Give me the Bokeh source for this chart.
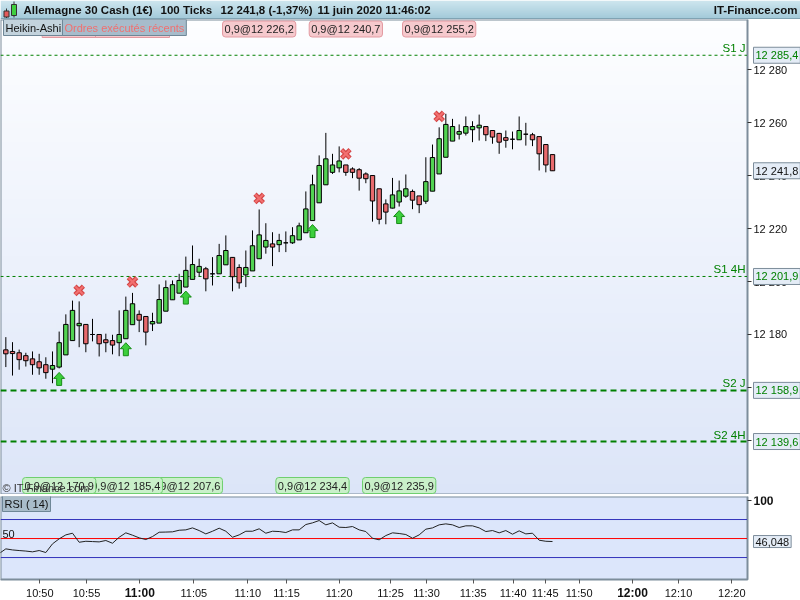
import numpy as np
from bokeh.plotting import figure
from bokeh.models import Range1d, Label, FixedTicker, ColumnDataSource
from bokeh.layouts import column
from bokeh.embed import file_html
from bokeh.resources import INLINE
from bokeh.core.properties import value

FONT = "Liberation Sans"

# ---------------- data (Heikin-Ashi, 100 ticks bars) ----------------
ha_open = [12174.2, 12173.6, 12173.1, 12172.0, 12170.8, 12169.7, 12168.6, 12166.9, 12167.7, 12172.3,
           12177.7, 12183.3, 12183.8, 12180.0, 12180.0, 12178.0, 12177.7, 12176.9, 12178.4, 12183.7,
           12187.6, 12186.8, 12184.0, 12184.3, 12188.8, 12193.1, 12195.6, 12197.9, 12200.8, 12203.5,
           12204.8, 12202.9, 12202.9, 12206.3, 12209.1, 12205.3, 12202.5, 12204.0, 12208.6, 12213.0,
           12214.2, 12213.9, 12214.6, 12214.6, 12215.7, 12218.4, 12223.0, 12229.7, 12236.5, 12241.2,
           12242.9, 12244.0, 12242.5, 12242.2, 12240.6, 12240.0, 12235.0, 12229.3, 12227.7, 12230.0,
           12232.2, 12234.0, 12232.3, 12230.3, 12234.1, 12240.6, 12246.9, 12253.0, 12255.6, 12256.0,
           12257.3, 12258.0, 12258.5, 12257.0, 12255.9, 12254.3, 12253.7, 12253.5, 12255.6, 12255.4,
           12254.7, 12251.7, 12247.9]
ha_high = [12179.0, 12177.1, 12174.3, 12173.1, 12173.6, 12172.7, 12171.4, 12173.6, 12181.1, 12187.6,
           12192.8, 12192.5, 12183.8, 12185.9, 12180.0, 12180.3, 12179.9, 12189.1, 12194.3, 12195.7,
           12189.1, 12186.8, 12188.2, 12198.9, 12200.4, 12200.4, 12202.9, 12209.4, 12213.6, 12208.6,
           12205.5, 12209.2, 12214.2, 12217.4, 12209.1, 12206.5, 12211.7, 12219.3, 12227.2, 12222.0,
           12218.6, 12218.0, 12218.9, 12220.5, 12222.2, 12234.0, 12240.3, 12247.6, 12256.1, 12248.2,
           12251.0, 12244.0, 12243.1, 12242.8, 12241.2, 12240.0, 12235.0, 12231.0, 12239.1, 12238.1,
           12240.4, 12234.7, 12232.3, 12246.9, 12251.7, 12258.2, 12263.3, 12261.4, 12259.3, 12262.3,
           12260.5, 12263.0, 12258.5, 12257.0, 12256.1, 12257.0, 12256.6, 12262.3, 12259.9, 12256.1,
           12254.7, 12251.7, 12247.9]
ha_low = [12167.7, 12164.5, 12166.7, 12167.9, 12164.8, 12164.8, 12163.3, 12161.6, 12167.2, 12172.3,
          12177.7, 12175.2, 12173.3, 12177.4, 12171.7, 12173.3, 12172.5, 12171.8, 12178.4, 12183.7,
          12180.9, 12175.9, 12181.3, 12184.3, 12188.8, 12193.1, 12195.6, 12197.9, 12200.8, 12201.9,
          12196.3, 12198.5, 12202.9, 12206.3, 12196.3, 12197.3, 12197.9, 12204.0, 12208.6, 12210.5,
          12205.8, 12211.1, 12211.1, 12214.2, 12215.7, 12218.4, 12223.0, 12229.7, 12236.5, 12240.6,
          12241.2, 12239.9, 12239.0, 12234.3, 12237.1, 12222.6, 12221.6, 12221.6, 12227.6, 12228.3,
          12231.6, 12227.3, 12225.8, 12229.3, 12234.1, 12240.6, 12246.9, 12253.0, 12253.6, 12255.1,
          12252.6, 12253.2, 12253.0, 12252.0, 12248.2, 12250.5, 12249.9, 12253.5, 12251.3, 12251.1,
          12241.9, 12241.2, 12241.8]
ha_close = [12172.7, 12172.8, 12170.5, 12170.1, 12168.6, 12167.4, 12165.6, 12168.3, 12176.9, 12183.8,
            12189.1, 12184.2, 12176.5, 12180.0, 12176.5, 12176.9, 12176.0, 12180.0, 12189.1, 12191.6,
            12185.4, 12180.9, 12184.9, 12193.2, 12197.7, 12198.8, 12200.4, 12204.2, 12206.4, 12205.7,
            12201.0, 12202.9, 12209.8, 12211.7, 12201.8, 12199.5, 12205.3, 12213.5, 12217.6, 12215.5,
            12213.0, 12215.5, 12214.6, 12217.3, 12221.0, 12227.4, 12236.5, 12243.8, 12246.3, 12244.0,
            12245.5, 12241.2, 12241.2, 12239.0, 12238.8, 12230.4, 12223.5, 12226.2, 12232.7, 12234.2,
            12235.0, 12230.7, 12229.0, 12237.7, 12246.8, 12253.9, 12259.3, 12258.5, 12256.6, 12258.5,
            12258.5, 12259.0, 12255.4, 12254.5, 12252.6, 12253.3, 12253.7, 12257.0, 12255.6, 12253.5,
            12248.2, 12244.0, 12241.8]

sell_bars = [11, 19, 38, 51, 65]
sell_prices = [None, None, 12226.2, 12240.7, 12255.2]   # first two hidden under the legend boxes
buy_bars = [8, 18, 27, 46, 59]
buy_prices = [12170.9, 12185.4, 12207.6, 12234.4, 12235.9]
order_qty = "0,9"

level_names = ["S1 J", "S1 4H", "S2 J", "S2 4H"]
level_values = [12285.4, 12201.9, 12158.9, 12139.6]
level_widths = [1, 1, 2, 2]
last_price = 12241.8

rsi_first_bar = -1
rsi_values = [30.3, 36.4, 35.0, 34.2, 33.5, 32.5, 34.2, 31.6, 43.0, 49.6,
              54.8, 57.0, 45.1, 46.4, 46.0, 45.6, 47.4, 43.8, 51.7, 57.5,
              54.4, 50.9, 48.7, 52.6, 58.3, 58.5, 58.8, 60.9, 61.4, 64.0,
              60.5, 56.1, 59.6, 63.6, 59.6, 51.7, 54.8, 59.6, 59.6, 62.8,
              57.0, 59.6, 59.2, 57.9, 61.4, 61.4, 68.4, 70.6, 73.7, 68.0,
              70.6, 64.9, 64.5, 65.8, 61.4, 59.2, 50.4, 48.3, 53.9, 57.5,
              56.6, 55.3, 50.4, 54.8, 62.3, 64.0, 68.0, 69.3, 68.0, 64.5,
              66.7, 66.7, 64.0, 59.2, 60.5, 57.5, 60.5, 55.7, 60.1, 56.1,
              57.0, 47.8, 46.4, 46.048]
rsi_last = 46.048
rsi_bands = [75, 25]
rsi_mid = 50

price_ticks = [12140, 12160, 12180, 12200, 12220, 12240, 12260, 12280]
price_tick_labels = ["12 140", "12 160", "12 180", "12 200", "12 220", "12 240", "12 260", "12 280"]
time_tick_pos = [5.1, 12.1, 20.1, 28.2, 36.3, 42.1, 50.0, 57.7, 63.1, 70.1, 76.1, 80.9, 86.0, 94.0, 100.9, 108.9]
time_tick_labels = ["10:50", "10:55", "11:00", "11:05", "11:10", "11:15", "11:20", "11:25", "11:30",
                    "11:35", "11:40", "11:45", "11:50", "12:00", "12:10", "12:20"]

# ---------------- layout constants ----------------
PAGE_W = 800
X0, X_AX = -0.8, 111.25            # visible bar span left of the price scale
PANE_W = 747
PX_X = PANE_W / (X_AX - X0)
X_END = X0 + PAGE_W / PX_X
HDR_H = 19
Y0, Y1 = 12119.6, 12298.9
PRICE_H = 475
PX_Y = PRICE_H / (Y1 - Y0)
R0, R1 = -3.9, 105.3
RSI_GAP = 2
RSI_PANE_H = 83
TIME_H = 21
PX_R = RSI_PANE_H / (R1 - R0)
R_END = R0 - TIME_H / PX_R
AXIS_GREY = "#7d8d9b"
GREEN = "#008000"
FS = "11px"


def fmt(v):
    return f"{v:,.1f}".replace(",", " ").replace(".", ",")


def vgrad(top, bottom, n=200):
    t = np.linspace(0.0, 1.0, n)[:, None]  # row 0 = bottom
    img = np.empty((n, 2), dtype=np.uint32)
    view = img.view(dtype=np.uint8).reshape((n, 2, 4))
    for k in range(3):
        view[:, :, k] = np.round(bottom[k] + (top[k] - bottom[k]) * t).astype(np.uint8)
    view[:, :, 3] = 255
    return img


def value_box(y, text, color):
    return Label(x=X_AX, x_offset=6, y=y, text=text, text_align="left", text_baseline="middle",
                 text_font=FONT, text_font_size=FS, text_color=color,
                 background_fill_color="#e4ecf6", border_line_color=AXIS_GREY, padding=2)


def style_axis(a, size=FS, bold=False):
    a.axis_line_color = AXIS_GREY
    a.major_tick_line_color = "#333333"
    a.major_tick_out = 4
    a.major_tick_in = 0
    a.minor_tick_line_color = None
    a.major_label_standoff = 2
    a.major_label_text_font = FONT
    a.major_label_text_font_size = size
    a.major_label_text_color = "#111111"
    if bold:
        a.major_label_text_font_style = "bold"


# ---------------- header ----------------
hdr = figure(width=PAGE_W, height=HDR_H, x_range=Range1d(0, PAGE_W), y_range=Range1d(0, HDR_H),
             toolbar_location=None, output_backend="svg", x_axis_location=None, y_axis_location=None,
             min_border=0)
hdr.outline_line_color = None
hdr.xgrid.visible = False
hdr.ygrid.visible = False
hdr.image_rgba(image=[vgrad((206, 230, 239), (160, 200, 216))], x=0, y=0, dw=PAGE_W, dh=HDR_H)
hdr.segment(x0=[0], y0=[0.5], x1=[PAGE_W], y1=[0.5], line_color="#5f7d8c", line_width=1)
hdr.segment(x0=[6, 13.5], y0=[1.5, 2], x1=[6, 13.5], y1=[11, 18], line_color="#333", line_width=1)
hdr.quad(left=[3.5], right=[8.5], bottom=[2.5], top=[8.5], fill_color="#e35b5b", line_color="#333")
hdr.quad(left=[11], right=[16], bottom=[4], top=[15], fill_color="#3fcf3f", line_color="#333")
hdr.text(x=[23, 160, 220, 317], y=[9.5] * 4,
         text=["Allemagne 30 Cash (1€)", "100 Ticks", f"{fmt(last_price)} (-1,37%)", "11 juin 2020 11:46:02"],
         text_font=value(FONT), text_font_style="bold", text_font_size="11.5px",
         text_baseline="middle", text_color="#111111")
hdr.text(x=[797], y=[9.5], text=["IT-Finance.com"], text_font=value(FONT), text_font_style="bold",
         text_font_size="11.5px", text_baseline="middle", text_align="right", text_color="#111111")

# ---------------- price pane (frame spans the page; real axis drawn at the pane edge) ----------------
p = figure(frame_width=PAGE_W, frame_height=PRICE_H, x_range=Range1d(X0, X_END), y_range=Range1d(Y0, Y1),
           toolbar_location=None, output_backend="svg", x_axis_location=None, y_axis_location="right",
           min_border_left=0, min_border_right=0, min_border_top=0, min_border_bottom=0)
p.outline_line_color = None
p.background_fill_color = "white"
p.border_fill_color = "white"
p.xgrid.visible = False
p.ygrid.visible = False
p.image_rgba(image=[vgrad((253, 254, 255), (220, 229, 248))], x=X0, y=Y0, dw=X_AX - X0, dh=Y1 - Y0)
p.quad(left=[X0], right=[X_AX], bottom=[Y0], top=[Y1], fill_color=None, line_color=AXIS_GREY, line_width=2)

ax = p.yaxis[0]
ax.ticker = FixedTicker(ticks=price_ticks)
ax.major_label_overrides = {t: l for t, l in zip(price_ticks, price_tick_labels)}
ax.fixed_location = X_AX
ax.bounds = (Y0, Y1)
style_axis(ax)

for lv, lw in zip(level_values, level_widths):
    p.segment(x0=[X0], y0=[lv], x1=[X_AX], y1=[lv], line_color=GREEN, line_width=lw,
              line_dash="3 3" if lw == 1 else "6 4")

bars = list(range(len(ha_open)))
tops = [max(o, c) for o, c in zip(ha_open, ha_close)]
bots = [min(o, c) for o, c in zip(ha_open, ha_close)]
cols = ["#52d352" if c >= o else "#e86a6d" for o, c in zip(ha_open, ha_close)]
src = ColumnDataSource(dict(x=bars, h=ha_high, l=ha_low, top=tops, bottom=bots, color=cols))
p.segment(x0="x", y0="l", x1="x", y1="h", source=src, line_color="black", line_width=1)
p.vbar(x="x", width=0.66, top="top", bottom="bottom", fill_color="color", line_color="black",
       line_width=1, source=src)

cross_y = [ha_high[b] + 11 / PX_Y for b in sell_bars]
p.scatter(x=sell_bars, y=cross_y, marker="x", size=12, line_width=4.5, line_color="#d44646")
p.scatter(x=sell_bars, y=cross_y, marker="x", size=11, line_width=2.2, line_color="#f27070")

axs, ays = [], []
for b in buy_bars:
    top = ha_low[b] - 4 / PX_Y
    base = top - 6 / PX_Y
    bot = top - 13 / PX_Y
    hw, sw = 5.5 / PX_X, 2.5 / PX_X
    axs.append([b, b + hw, b + sw, b + sw, b - sw, b - sw, b - hw])
    ays.append([top, base, base, bot, bot, base, base])
p.patches(axs, ays, fill_color="#3ccf3c", line_color="#178c17", line_width=1)

hid = [b for b, v in zip(sell_bars, sell_prices) if v is None]
p.quad(left=[b - 37 / PX_X for b in hid], right=[b + 37 / PX_X for b in hid],
       top=[Y1 - 1 / PX_Y] * len(hid), bottom=[Y1 - 18 / PX_Y] * len(hid),
       fill_color="#f6c9cd", line_color="#e39aa1")

for b, v in zip(sell_bars, sell_prices):
    if v is None:
        continue
    p.add_layout(Label(x=b, y=Y1 - 9.5 / PX_Y, text=f"{order_qty}@{fmt(v)}", text_align="center",
                       text_baseline="middle", text_font=FONT, text_font_size=FS, text_color="#222222",
                       background_fill_color="#f6c9cd", border_line_color="#e39aa1", border_radius=3,
                       padding=2))

p.add_layout(Label(x=X0, x_offset=3, y=Y1 - 8 / PX_Y, text="Heikin-Ashi", text_align="left",
                   text_baseline="middle", text_font=FONT, text_font_size=FS, text_color="#111111",
                   background_fill_color="#c3d3dd", border_line_color="#6f8797", padding=2))
p.add_layout(Label(x=X0, x_offset=62, y=Y1 - 8 / PX_Y, text="Ordres exécutés récents", text_align="left",
                   text_baseline="middle", text_font=FONT, text_font_size=FS, text_color="#f07070",
                   background_fill_color="#a7bccb", border_line_color="#6f8797", padding=2))

for b, v in reversed(list(zip(buy_bars, buy_prices))):
    p.add_layout(Label(x=b, y=Y0 + 9 / PX_Y, text=f"{order_qty}@{fmt(v)}", text_align="center",
                       text_baseline="middle", text_font=FONT, text_font_size=FS, text_color="#222222",
                       background_fill_color="#c9f0c9", border_line_color="#6fcf6f", border_radius=3,
                       padding=2))
p.add_layout(Label(x=X0, x_offset=2, y=Y0 + 7 / PX_Y, text="© IT-Finance.com", text_align="left",
                   text_baseline="middle", text_font=FONT, text_font_size="11px", text_color="#333333"))

for name, lv in zip(level_names, level_values):
    p.add_layout(Label(x=X_AX, x_offset=-2, y=lv, y_offset=1, text=name, text_align="right",
                       text_baseline="bottom", text_font=FONT, text_font_size="11.5px", text_color=GREEN))
    p.add_layout(value_box(lv, fmt(lv), GREEN))
p.add_layout(value_box(last_price, fmt(last_price), "#111111"))

# ---------------- RSI pane ----------------
r = figure(frame_width=PAGE_W, frame_height=RSI_PANE_H + TIME_H, x_range=p.x_range, y_range=Range1d(R_END, R1),
           toolbar_location=None, output_backend="svg", x_axis_location="below", y_axis_location="right",
           min_border_left=0, min_border_right=0, min_border_top=RSI_GAP, min_border_bottom=0)
r.outline_line_color = None
r.background_fill_color = "white"
r.border_fill_color = "white"
r.xgrid.visible = False
r.ygrid.visible = False
r.quad(left=[X0], right=[X_AX], bottom=[R0], top=[R1], fill_color="#dce6fb", line_color=AXIS_GREY, line_width=2)
r.segment(x0=[X0] * len(rsi_bands), y0=rsi_bands, x1=[X_AX] * len(rsi_bands), y1=rsi_bands,
          line_color="#3333bb", line_width=1)
r.segment(x0=[X0], y0=[rsi_mid], x1=[X_AX], y1=[rsi_mid], line_color="#ff0000", line_width=1)
r.line(x=list(range(rsi_first_bar, rsi_first_bar + len(rsi_values))), y=rsi_values,
       line_color="#222222", line_width=1)

xa = r.xaxis[0]
xa.ticker = FixedTicker(ticks=time_tick_pos)
xa.major_label_overrides = {t: ("" if l.endswith(":00") else l) for t, l in zip(time_tick_pos, time_tick_labels)}
xa.fixed_location = R0
xa.bounds = (X0, X_AX)
style_axis(xa)
xa.major_tick_line_color = "#555555"
xa.major_label_standoff = 3

ya = r.yaxis[0]
ya.ticker = FixedTicker(ticks=[100])
ya.fixed_location = X_AX
ya.bounds = (R0, R1)
style_axis(ya, size="12px", bold=True)

for t, l in zip(time_tick_pos, time_tick_labels):
    if l.endswith(":00"):
        r.add_layout(Label(x=t, y=R0 - 13 / PX_R, text=l, text_align="center", text_baseline="middle",
                           text_font=FONT, text_font_size="12px", text_font_style="bold",
                           text_color="#111111"))

r.add_layout(Label(x=X0, x_offset=2, y=R1 - 7 / PX_R, text="RSI ( 14)", text_align="left",
                   text_baseline="middle", text_font=FONT, text_font_size=FS, text_color="#111111",
                   background_fill_color="#a9bcca", border_line_color="#6f8797", padding=2))
r.add_layout(Label(x=X0, x_offset=2, y=rsi_mid, y_offset=1, text=str(rsi_mid), text_align="left",
                   text_baseline="bottom", text_font=FONT, text_font_size="11px", text_color="#111111"))
r.add_layout(value_box(rsi_last, f"{rsi_last:.3f}".replace(".", ","), "#111111"))

root = column(hdr, p, r, spacing=0, styles={"position": "fixed", "left": "0px", "top": "0px"})
open("out.html", "w").write(file_html(root, INLINE))
